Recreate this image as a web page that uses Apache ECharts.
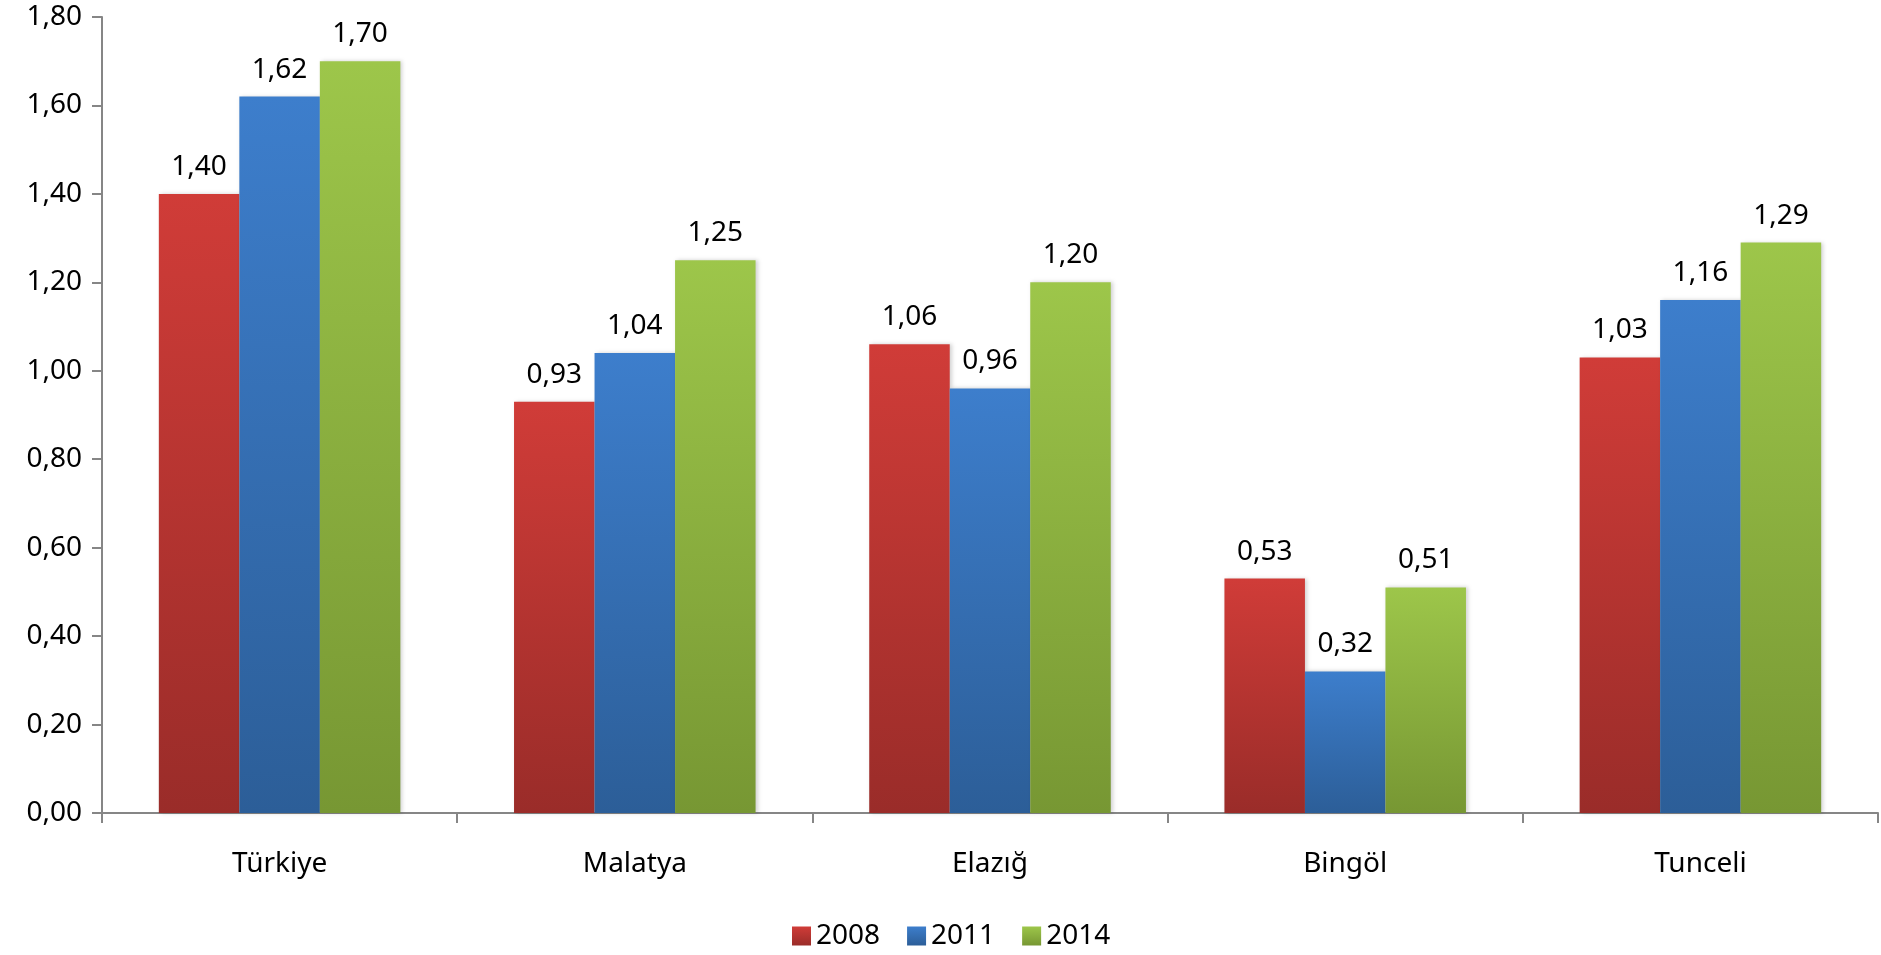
<!DOCTYPE html>
<html>
<head>
<meta charset="utf-8">
<script src="https://cdn.jsdelivr.net/npm/echarts@6/dist/echarts.min.js"></script>
<style>
html,body{margin:0;padding:0;background:#fff;}
#chart{width:1881px;height:955px;}
</style>
</head>
<body>
<div id="chart"></div>
<script>
const categories = ['Türkiye', 'Malatya', 'Elazığ', 'Bingöl', 'Tunceli'];
const seriesNames = ['2008', '2011', '2014'];
const values2008 = [1.40, 0.93, 1.06, 0.53, 1.03];
const values2011 = [1.62, 1.04, 0.96, 0.32, 1.16];
const values2014 = [1.70, 1.25, 1.20, 0.51, 1.29];
const yTicks = [0, 0.2, 0.4, 0.6, 0.8, 1.0, 1.2, 1.4, 1.6, 1.8];

const FONT = 'Noto Sans';
const FS = 28;
const fmt = v => v.toFixed(2).replace('.', ',');
const grad = (top, bottom) => new echarts.graphic.LinearGradient(0, 0, 0, 1, [
  {offset: 0, color: top}, {offset: 1, color: bottom}
]);
const colors = [
  grad('#D03C38', '#9A2C29'),
  grad('#3D7ECC', '#2C5E98'),
  grad('#9DC64A', '#779733')
];
const allValues = [values2008, values2011, values2014];

const chart = echarts.init(document.getElementById('chart'));
chart.setOption({
  animation: false,
  backgroundColor: '#ffffff',
  textStyle: {fontFamily: FONT},
  grid: {left: 102, right: 3, top: 17, bottom: 142, containLabel: false},
  legend: {
    bottom: 0,
    left: 787,
    itemWidth: 19,
    itemHeight: 19,
    itemGap: 27,
    icon: 'rect',
    textStyle: {fontFamily: FONT, fontSize: FS, color: '#000'},
    data: seriesNames
  },
  xAxis: {
    type: 'category',
    data: categories,
    axisLine: {lineStyle: {color: '#868686', width: 2}},
    axisTick: {show: true, length: 10, lineStyle: {color: '#868686', width: 2}},
    axisLabel: {fontFamily: FONT, fontSize: FS, color: '#000', margin: 37}
  },
  yAxis: {
    type: 'value',
    min: yTicks[0],
    max: yTicks[yTicks.length - 1],
    interval: 0.2,
    splitLine: {show: false},
    axisLine: {show: true, lineStyle: {color: '#868686', width: 2}},
    axisTick: {show: true, length: 10, lineStyle: {color: '#868686', width: 2}},
    axisLabel: {fontFamily: FONT, fontSize: FS, color: '#000', margin: 20, formatter: v => fmt(v)}
  },
  series: seriesNames.map((name, i) => ({
    name: name,
    type: 'bar',
    data: allValues[i],
    barGap: '0%',
    barCategoryGap: '32%',
    itemStyle: {color: colors[i], shadowColor: 'rgba(0,0,0,0.18)', shadowBlur: 4, shadowOffsetX: 2, shadowOffsetY: 0},
    label: {
      show: true,
      position: 'top',
      distance: 13,
      fontFamily: FONT,
      fontSize: FS,
      color: '#000',
      formatter: p => fmt(p.value)
    }
  }))
});
</script>
</body>
</html>
